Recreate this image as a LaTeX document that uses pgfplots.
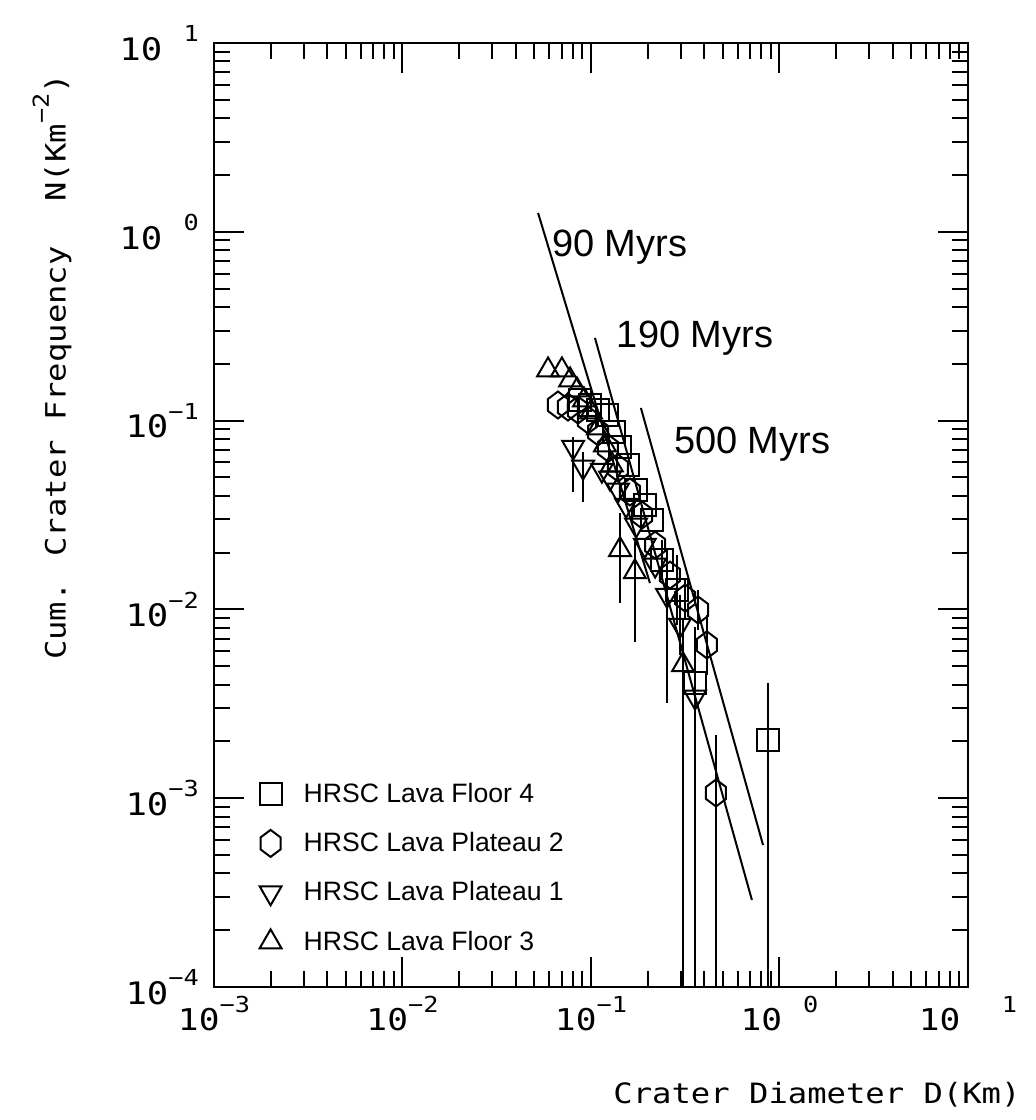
\documentclass[border=0pt]{standalone}
\usepackage{fontspec}
\setmainfont{Liberation Sans}
\newfontfamily\plotfont{DejaVu Sans Mono}[FakeStretch=1.15]
\usepackage{pgfplots}
\usepackage{pgfplotstable}
\pgfplotsset{compat=1.18}

\newcommand\sexp[1]{\raisebox{0.6em}{\fontsize{11}{11}\selectfont #1}}

\pgfdeclareplotmark{hexagon}{%
 \pgfpathmoveto{\pgfqpoint{0pt}{1.35\pgfplotmarksize}}%
 \pgfpathlineto{\pgfqpoint{\pgfplotmarksize}{0.6\pgfplotmarksize}}%
 \pgfpathlineto{\pgfqpoint{\pgfplotmarksize}{-0.6\pgfplotmarksize}}%
 \pgfpathlineto{\pgfqpoint{0pt}{-1.35\pgfplotmarksize}}%
 \pgfpathlineto{\pgfqpoint{-\pgfplotmarksize}{-0.6\pgfplotmarksize}}%
 \pgfpathlineto{\pgfqpoint{-\pgfplotmarksize}{0.6\pgfplotmarksize}}%
 \pgfpathclose
 \pgfusepathqstroke}

\pgfplotstableread{
x y ep em
0.0875 0.1285 0 0
0.0989 0.121 0 0
0.109 0.1138 0 0
0.1216 0.107 0 0
0.1324 0.0871 0 0
0.1426 0.0724 0 0
0.157 0.0582 0 0
0.1734 0.0429 0 0
0.193 0.0357 0 0
0.211 0.0298 0 0
0.238 0.01827 0.00504 0.00395
0.2857 0.01267 0.00674 0.0044
0.3565 0.00407 0.00399 0.0040699
0.869 0.00203 0.00204 0.0020299
}\floorfour

\pgfplotstableread{
x y ep em
0.0668 0.121 0 0
0.0755 0.118 0 0
0.0853 0.1138 0 0
0.0964 0.1007 0 0
0.109 0.0871 0 0
0.123 0.0716 0 0
0.139 0.0561 0 0
0.161 0.0419 0 0
0.1866 0.0316 0 0
0.219 0.0219 0 0
0.2625 0.0152 0 0
0.3155 0.01148 0.00317 0.00248
0.370 0.00993 0.00274 0.00214
0.412 0.00648 0.00286 0.00199
0.4603 0.001066 0.001096 0.0010659
}\plateautwo

\pgfplotstableread{
x y ep em
0.0804 0.0724 0.0094 0.0306
0.0908 0.0568 0.0114 0.0197
0.1143 0.0547 0 0
0.1262 0.0497 0 0
0.139 0.0429 0 0
0.1535 0.0357 0 0
0.1734 0.028 0 0
0.193 0.0219 0 0
0.219 0.0172 0 0
0.253 0.0119 0.0087 0.00871
0.2965 0.00826 0.00365 0.00253
0.3565 0.00344 0.00216 0.0034399
}\plateauone

\pgfplotstableread{
x y ep em
0.0592 0.1853 0 0
0.0701 0.1853 0 0
0.0775 0.164 0 0
0.0843 0.145 0 0
0.0918 0.1285 0 0
0.100 0.111 0 0
0.109 0.0914 0 0
0.1186 0.0743 0 0
0.129 0.0582 0 0
0.1426 0.0207 0.0118 0.00985
0.171 0.0158 0.00698 0.00907
0.3076 0.00508 0.00371 0.0050799
}\floorthree

\begin{document}
\begin{tikzpicture}
\path[use as bounding box] (-107pt,-66.5pt) rectangle (411pt,493.5pt);
\begin{axis}[
  xmode=log, ymode=log,
  xmin=1e-3, xmax=10, ymin=1e-4, ymax=10,
  scale only axis, width=377pt, height=472pt,
  axis line style={line width=1pt},
  tick align=inside,
  major tick length=15pt, minor tick length=8pt,
  every tick/.style={black, line width=1pt},
  xtick={0.001,0.01,0.1,1,10},
  ytick={0.0001,0.001,0.01,0.1,1,10},
  xticklabels={10\sexp{−3},10\sexp{−2},10\sexp{−1},10\ \sexp{0},10\ \ \sexp{1}},
  yticklabels={10\sexp{−4},10\sexp{−3},10\sexp{−2},10\sexp{−1},10\ \sexp{0},10\ \sexp{1}},
  xticklabel style={font=\plotfont\fontsize{15}{15}\selectfont, yshift=-1pt},
  yticklabel style={font=\plotfont\fontsize{15.5}{15.5}\selectfont, xshift=-4pt},
  legend style={draw=none, fill=none, at={(rel axis cs:0.052,0.225)}, anchor=north west,
     font=\fontsize{13.3}{13.3}\selectfont, row sep=9.5pt,
     /tikz/every odd column/.append style={column sep=9pt}},
  legend cell align=left,
  error bars/error bar style={line width=1pt},
]
\addplot[only marks, mark=square, mark size=5.5pt, mark options={line width=1pt},
  error bars/.cd, y dir=both, y explicit, error mark=none]
  table[x=x, y=y, y error plus=ep, y error minus=em] {\floorfour};
\addlegendentry{HRSC Lava Floor 4}
\addplot[only marks, mark=hexagon, mark size=5pt, mark options={line width=1pt},
  error bars/.cd, y dir=both, y explicit, error mark=none]
  table[x=x, y=y, y error plus=ep, y error minus=em] {\plateautwo};
\addlegendentry{HRSC Lava Plateau 2}
\addplot[only marks, mark=triangle, mark size=6.3pt, mark options={line width=1pt, rotate=180},
  error bars/.cd, y dir=both, y explicit, error mark=none]
  table[x=x, y=y, y error plus=ep, y error minus=em] {\plateauone};
\addlegendentry{HRSC Lava Plateau 1}
\addplot[only marks, mark=triangle, mark size=6.3pt, mark options={line width=1pt},
  error bars/.cd, y dir=both, y explicit, error mark=none]
  table[x=x, y=y, y error plus=ep, y error minus=em] {\floorthree};
\addlegendentry{HRSC Lava Floor 3}
% isochrons
\addplot[black, line width=1pt, forget plot] coordinates {(0.0524,1.258) (0.2055,0.01377)};
\addplot[black, line width=1pt, forget plot] coordinates {(0.105,0.274) (0.714,0.000289)};
\addplot[black, line width=1pt, forget plot] coordinates {(0.184,0.1167) (0.818,0.000565)};
\node[anchor=base west, font=\fontsize{19}{19}\selectfont] at (axis cs:0.0570,0.744) {90 Myrs};
\node[anchor=base west, font=\fontsize{19}{19}\selectfont] at (axis cs:0.126,0.245) {190 Myrs};
\node[anchor=base west, font=\fontsize{19}{19}\selectfont] at (axis cs:0.253,0.0673) {500 Myrs};
\end{axis}
\node[font=\plotfont\fontsize{14}{14}\selectfont, rotate=90] at (-81pt,310pt)
  {Cum. Crater Frequency\hspace{1.6em}N(Km\sexp{−2})};
\node[font=\plotfont\fontsize{14}{14}\selectfont] at (301.5pt,-54pt) {Crater Diameter D(Km)};
\end{tikzpicture}
\end{document}
